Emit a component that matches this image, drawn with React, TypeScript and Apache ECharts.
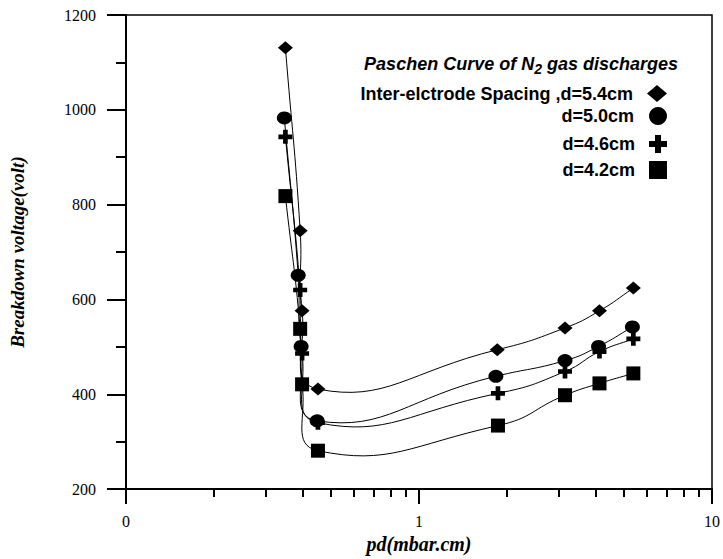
import React, { useEffect, useRef } from 'react';
import * as echarts from 'echarts';

// ---- data ----
const seriesNames = ['Inter-elctrode Spacing ,d=5.4cm', 'd=5.0cm', 'd=4.6cm', 'd=4.2cm'];

const pd54 = [0.350, 0.393, 0.399, 0.452, 1.85, 3.15, 4.13, 5.39];
const v54 = [1131, 745, 576, 411, 494, 540, 576, 624];

const pd50 = [0.347, 0.387, 0.396, 0.449, 1.83, 3.15, 4.10, 5.35];
const v50 = [983, 651, 501, 344, 438, 471, 501, 542];

const pd46 = [0.350, 0.393, 0.399, 0.452, 1.86, 3.15, 4.13, 5.39];
const v46 = [943, 620, 486, 340, 402, 448, 490, 517];

const pd42 = [0.350, 0.393, 0.399, 0.452, 1.86, 3.15, 4.13, 5.39];
const v42 = [818, 538, 421, 281, 334, 398, 423, 444];

const xTickValues = [0.1, 1, 10];
const xTickLabels = ['0', '1', '10'];

const yMin = 200;
const yMax = 1200;
const yInterval = 200;

const SMOOTH = 0.5;

const PLUS = 'path://M4,0H8V4H12V8H8V12H4V8H0V4H4Z';
const symbols = ['diamond', 'circle', PLUS, 'rect'];
const symbolSizes: any[] = [[15, 13], [15, 13], 14, 14];
const legendIcons = ['diamond', 'circle', PLUS, 'rect'];
const legendSizes = [[20, 17], [20, 18], [18, 18], [18, 18]];
const legendCenters = [93, 116, 144, 170];

const pairs = (xs: number[], ys: number[]) => xs.map((x, i) => [x, ys[i]]);
const seriesData = [pairs(pd54, v54), pairs(pd50, v50), pairs(pd46, v46), pairs(pd42, v42)];

const SANS = 'Liberation Sans, Arial, sans-serif';
const SERIF = 'Liberation Serif, Times New Roman, serif';

// control points for a smooth curve through pixel points (no clamping, so it may overshoot)
function controls(prev: number[], cur: number[], next: number[], s: number) {
  const vx = next[0] - prev[0];
  const vy = next[1] - prev[1];
  const l0 = Math.hypot(cur[0] - prev[0], cur[1] - prev[1]);
  const l1 = Math.hypot(next[0] - cur[0], next[1] - cur[1]);
  const r = l0 + l1 === 0 ? 0.5 : l1 / (l0 + l1);
  return {
    inp: [cur[0] - vx * s * (1 - r), cur[1] - vy * s * (1 - r)],
    out: [cur[0] + vx * s * r, cur[1] + vy * s * r],
  };
}

export default function App() {
  const ref = useRef<HTMLDivElement>(null);
  useEffect(() => {
    document.body.style.margin = '0';
    if (!ref.current) return;
    const chart = echarts.init(ref.current, null, { renderer: 'svg' });

    const curveSeries = seriesData.map((d, si) => ({
      type: 'custom',
      name: 'curve-' + si,
      data: d,
      silent: true,
      clip: false,
      z: 1,
      encode: { x: 0, y: 1 },
      renderItem: (params: any, api: any) => {
        const i = params.dataIndex;
        if (i >= d.length - 1) return null;
        const pt = (k: number) => api.coord(d[Math.max(0, Math.min(d.length - 1, k))]);
        const pPrev = pt(i - 1);
        const p1 = pt(i);
        const p2 = pt(i + 1);
        const pNext = pt(i + 2);
        const c1 = controls(pPrev, p1, p2, SMOOTH);
        const c2 = controls(p1, p2, pNext, SMOOTH);
        return {
          type: 'bezierCurve',
          shape: {
            x1: p1[0], y1: p1[1],
            x2: p2[0], y2: p2[1],
            cpx1: c1.out[0], cpy1: c1.out[1],
            cpx2: c2.inp[0], cpy2: c2.inp[1],
          },
          style: { stroke: '#000', lineWidth: 1, fill: null },
        };
      },
    }));

    const markerSeries = seriesNames.map((n, i) => ({
      name: n,
      type: 'scatter',
      data: seriesData[i],
      symbol: symbols[i],
      symbolSize: symbolSizes[i],
      itemStyle: { color: '#000', borderWidth: 0, opacity: 1 },
      emphasis: { disabled: true },
      z: 3,
    }));

    const option: any = {
      animation: false,
      backgroundColor: '#fff',
      title: {
        text: '{a|Paschen Curve of N}{s|2}{a| gas discharges}',
        right: 40,
        top: 47,
        textStyle: {
          rich: {
            a: { fontFamily: SANS, fontWeight: 'bold', fontStyle: 'italic', fontSize: 18, color: '#000', lineHeight: 24 },
            s: { fontFamily: SANS, fontWeight: 'bold', fontStyle: 'italic', fontSize: 14, color: '#000', lineHeight: 24, padding: [10, 0, 0, 0] },
          },
        },
      },
      legend: seriesNames.map((n, i) => ({
        data: [{ name: n, icon: legendIcons[i] }],
        orient: 'vertical',
        align: 'right',
        right: 56,
        top: legendCenters[i] - legendSizes[i][1] / 2,
        itemWidth: legendSizes[i][0],
        itemHeight: legendSizes[i][1],
        selectedMode: false,
        padding: 0,
        itemStyle: { color: '#000', borderWidth: 0 },
        textStyle: { fontFamily: SANS, fontWeight: 'bold', fontSize: 18, color: '#000', padding: [0, 9, 0, 0] },
      })),
      grid: {
        left: 126,
        right: 8,
        top: 15,
        bottom: 65,
        show: true,
        borderColor: '#000',
        borderWidth: 1.5,
      },
      xAxis: {
        type: 'log',
        logBase: 10,
        min: 0.1,
        max: 10,
        name: 'pd(mbar.cm)',
        nameLocation: 'middle',
        nameGap: 41,
        nameTextStyle: { fontFamily: SERIF, fontWeight: 'bold', fontStyle: 'italic', fontSize: 20, color: '#000' },
        axisLine: { show: true, lineStyle: { color: '#000', width: 2 } },
        axisTick: { show: true, inside: false, length: 15, lineStyle: { color: '#000', width: 2 } },
        minorTick: { show: true, splitNumber: 9, length: 8, lineStyle: { color: '#000', width: 2 } },
        splitLine: { show: false },
        minorSplitLine: { show: false },
        axisLabel: {
          margin: 24,
          fontFamily: SERIF,
          fontSize: 16,
          color: '#000',
          formatter: (v: number) => {
            const idx = xTickValues.findIndex((t) => Math.abs(Math.log10(t) - Math.log10(v)) < 1e-6);
            return idx >= 0 ? xTickLabels[idx] : '';
          },
        },
      },
      yAxis: {
        type: 'value',
        min: yMin,
        max: yMax,
        interval: yInterval,
        name: 'Breakdown voltage(volt)',
        nameLocation: 'middle',
        nameGap: 99,
        nameTextStyle: { fontFamily: SERIF, fontWeight: 'bold', fontStyle: 'italic', fontSize: 19, color: '#000' },
        axisLine: { show: true, lineStyle: { color: '#000', width: 2 } },
        axisTick: { show: true, inside: false, length: 19, lineStyle: { color: '#000', width: 2 } },
        minorTick: { show: true, splitNumber: 2, length: 10, lineStyle: { color: '#000', width: 2 } },
        splitLine: { show: false },
        axisLabel: { margin: 30, fontFamily: SERIF, fontSize: 16, color: '#000', formatter: (v: number) => String(v) },
      },
      series: [...curveSeries, ...markerSeries],
    };
    chart.setOption(option);
    return () => chart.dispose();
  }, []);
  return <div ref={ref} style={{ width: 723, height: 559 }} />;
}
